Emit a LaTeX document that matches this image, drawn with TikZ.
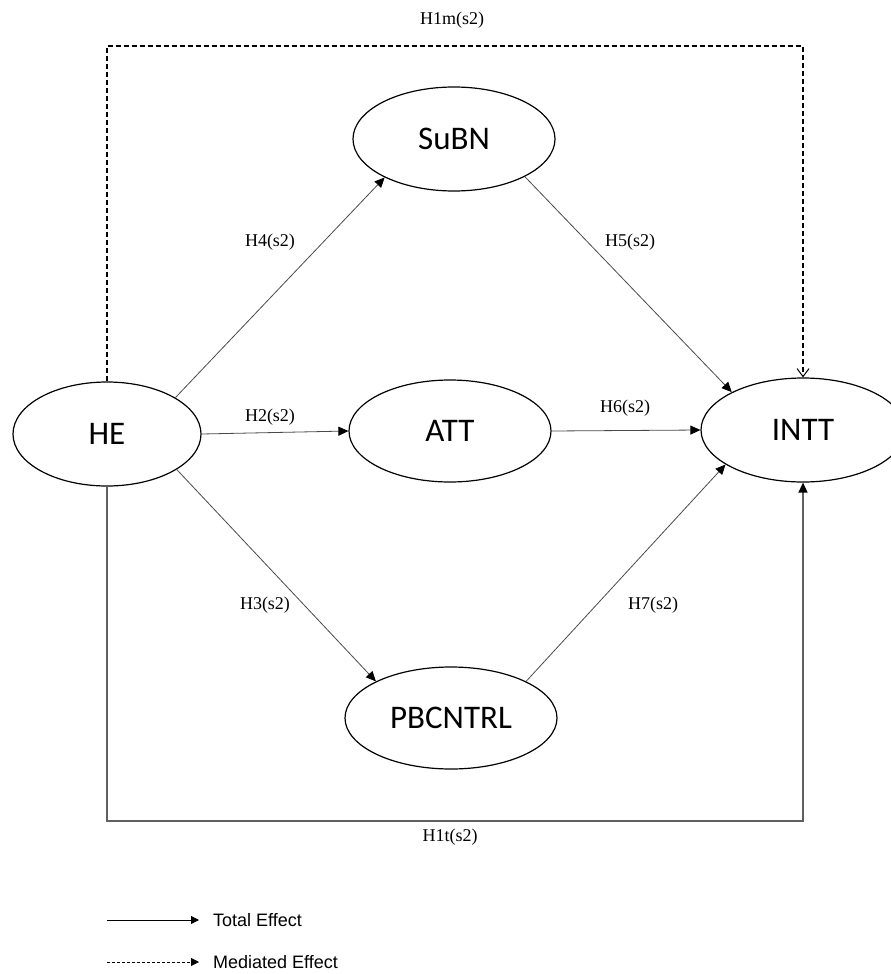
\documentclass[tikz,border=0pt]{standalone}
\usepackage{fontspec}
\setmainfont{Liberation Serif}
\newfontfamily\ellfont{Carlito}
\newfontfamily\legfont{Liberation Sans}
\usetikzlibrary{shapes.geometric,arrows.meta}
\definecolor{conn}{HTML}{4A4A4A}
\definecolor{bline}{HTML}{606060}
\tikzset{
  var/.style={ellipse,draw=black,line width=1.2pt,inner sep=0pt,
    font=\ellfont\fontsize{33}{36}\selectfont},
  hlab/.style={font=\fontsize{18}{20}\selectfont,inner sep=0pt},
  leglab/.style={font=\legfont\fontsize{18}{20}\selectfont,inner sep=0pt,anchor=west},
  conn/.style={draw=conn,line width=0.8pt,-{Triangle[length=10pt,width=9pt,color=black]}},
  med/.style={draw=black,line width=1.2pt,dash pattern=on 5pt off 3pt,
    -{Straight Barb[length=8pt,width=12pt,line width=1pt]}},
  tot/.style={draw=bline,line width=1.4pt,-{Triangle[length=10pt,width=9pt,color=black]}},
}
\begin{document}
\begin{tikzpicture}[x=1pt,y=-1pt]
\useasboundingbox[fill=white] (0,0) rectangle (891,974);
% nodes
\node[var,minimum width=188pt,minimum height=104pt] (HE) at (107,434) {HE};
\node[var,minimum width=202pt,minimum height=104pt] (SuBN) at (454,139) {SuBN};
\node[var,minimum width=202pt,minimum height=102pt] (ATT) at (450,431) {ATT};
\node[var,minimum width=204pt,minimum height=104pt] (INTT) at (803,430) {INTT};
\node[var,minimum width=212pt,minimum height=102pt] (PB) at (451,718) {PBCNTRL};
% corner coordinates
\coordinate (tl) at (107,46);
\coordinate (tr) at (803,46);
\coordinate (bl) at (107,821);
\coordinate (br) at (803,821);
% connectors
\draw[conn] (HE.28) -- (SuBN.209);
\draw[conn] (SuBN.332) -- (INTT.152);
\draw[conn] (HE.east) -- (ATT.west);
\draw[conn] (ATT.east) -- (INTT.west);
\draw[conn] (HE.333) -- (PB.154);
\draw[conn] (PB.26) -- (INTT.204);
\draw[med] (HE.north) -- (tl) -- (tr) -- (INTT.north);
\draw[tot] (HE.south) -- (bl) -- (br) -- (INTT.south);
% labels
\node[hlab] (l1m) at (452,20) {H1m(s2)};
\node[hlab] (l4) at (270,242) {H4(s2)};
\node[hlab] (l5) at (630,242) {H5(s2)};
\node[hlab] (l2) at (270,417) {H2(s2)};
\node[hlab] (l6) at (625,408) {H6(s2)};
\node[hlab] (l3) at (265,605) {H3(s2)};
\node[hlab] (l7) at (653,605) {H7(s2)};
\node[hlab] (l1t) at (450,837) {H1t(s2)};
% legend
\coordinate (t0) at (107,920);
\coordinate (t1) at (199,920);
\coordinate (m0) at (107,962);
\coordinate (m1) at (199,962);
\draw[draw=black,line width=0.8pt,-{Triangle[length=8pt,width=8pt]}] (t0) -- (t1);
\draw[draw=black,line width=0.8pt,dash pattern=on 3pt off 2pt,-{Triangle[length=8pt,width=8pt]}] (m0) -- (m1);
\node[leglab] (lt) at (213,920) {Total Effect};
\node[leglab] (lm) at (213,962) {Mediated Effect};
\end{tikzpicture}
\end{document}
